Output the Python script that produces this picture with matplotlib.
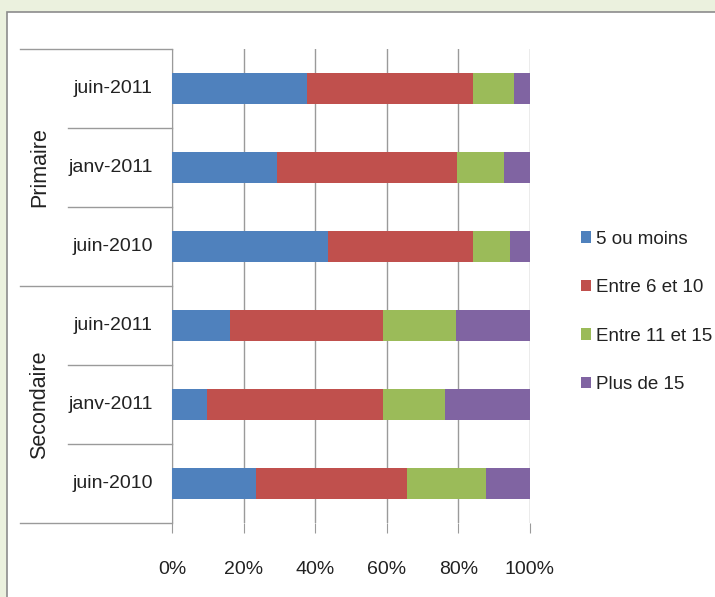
import matplotlib
matplotlib.use("Agg")
import matplotlib.pyplot as plt
from matplotlib.patches import Rectangle, Patch
from matplotlib.lines import Line2D
from matplotlib.ticker import PercentFormatter

plt.rcParams['font.family'] = ['Liberation Sans Narrow', 'Liberation Sans', 'DejaVu Sans']

# data (top to bottom)
groups = ["Primaire", "Secondaire"]
periods = ["juin-2011", "janv-2011", "juin-2010"]
series = ["5 ou moins", "Entre 6 et 10", "Entre 11 et 15", "Plus de 15"]
moins5 = [37.7, 29.2, 43.5, 16.1, 9.8, 23.5]
entre6_10 = [46.5, 50.5, 40.7, 42.8, 49.1, 42.1]
entre11_15 = [11.4, 12.9, 10.1, 20.5, 17.4, 22.0]
plus15 = [4.4, 7.4, 5.7, 20.6, 23.7, 12.4]
colors = ["#4F81BD", "#C0504D", "#9BBB59", "#8064A2"]

W, H = 715, 597
fig = plt.figure(figsize=(W / 100, H / 100), dpi=100, facecolor="#EBF1DE")
# white chart panel
fig.patches.append(Rectangle((7 / W, -0.05), 1.1, 1 - 12 / H + 0.05, transform=fig.transFigure,
                             facecolor="white", edgecolor="#8C8C8C", linewidth=1.2, zorder=-5))

ax = fig.add_axes([172 / W, (H - 523) / H, 358 / W, 474 / H])
ax.set_facecolor("none")

ypos = list(range(len(moins5)))
left = [0] * len(ypos)
for vals, col, name in zip([moins5, entre6_10, entre11_15, plus15], colors, series):
    ax.barh(ypos, vals, left=left, height=0.4, color=col, linewidth=0, zorder=3, label=name)
    left = [l + v for l, v in zip(left, vals)]

ax.set_xlim(0, 100)
ax.set_ylim(5.5, -0.5)
ax.set_xticks([0, 20, 40, 60, 80, 100])
ax.xaxis.set_major_formatter(PercentFormatter(decimals=0))
ax.grid(axis="x", color="#9A9A9A", linewidth=1.0, zorder=1)
ax.tick_params(axis="x", length=7.5, color="#9A9A9A", pad=20, labelsize=14, labelcolor="#222222")
ax.set_yticks([])
for s in ["top", "right", "bottom"]:
    ax.spines[s].set_visible(False)
ax.spines["left"].set_color("#9A9A9A")

# grouped category axis
tr = ax.get_yaxis_transform()
for y in [-0.5, 2.5, 5.5]:
    ax.add_line(Line2D([-0.4246, 0], [y, y], transform=tr, color="#9A9A9A", lw=1.0, clip_on=False))
for y in [0.5, 1.5, 3.5, 4.5]:
    ax.add_line(Line2D([-0.2905, 0], [y, y], transform=tr, color="#9A9A9A", lw=1.0, clip_on=False))
for i, y in enumerate(ypos):
    ax.text(-0.053, y, periods[i % 3], transform=tr, ha="right", va="center",
            fontsize=14, color="#222222")
for g, y in zip(groups, [1, 4]):
    ax.text(-0.369, y, g, transform=tr, ha="center", va="center", rotation=90,
            fontsize=15.5, color="#222222")

handles = [Patch(facecolor=c, edgecolor="none") for c in colors]
fig.legend(handles, series, loc="center left", bbox_to_anchor=(564 / W, 1 - 312 / H),
           frameon=False, fontsize=13.5, labelspacing=1.68, handlelength=0.55,
           handleheight=0.55, handletextpad=0.25, labelcolor="#222222")

fig.savefig("out.png", dpi=100, facecolor=fig.get_facecolor())
